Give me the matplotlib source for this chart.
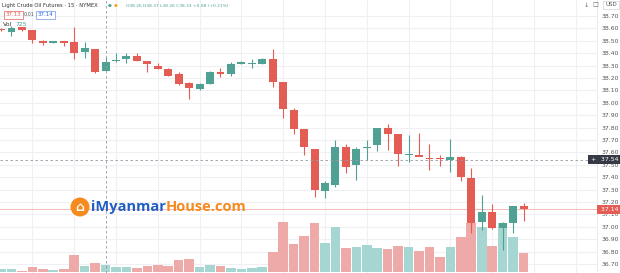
import matplotlib.pyplot as plt
from matplotlib.patches import Circle

opens = [38.595, 38.57, 38.61, 38.59, 38.495, 38.49, 38.495, 38.49, 38.41, 38.43,
         38.26, 38.34, 38.35, 38.38, 38.34, 38.30, 38.27, 38.23, 38.16, 38.11,
         38.15, 38.245, 38.23, 38.31, 38.32, 38.31, 38.35, 38.17, 37.94, 37.79,
         37.63, 37.29, 37.34, 37.64, 37.50, 37.635, 37.66, 37.80, 37.75, 37.58,
         37.58, 37.555, 37.555, 37.54, 37.56, 37.39, 37.04, 37.12, 36.99, 37.03,
         37.165]
highs = [38.60, 38.62, 38.61, 38.59, 38.51, 38.50, 38.50, 38.61, 38.49, 38.43,
         38.37, 38.40, 38.40, 38.40, 38.34, 38.32, 38.28, 38.25, 38.17, 38.16,
         38.26, 38.28, 38.33, 38.34, 38.35, 38.36, 38.43, 38.17, 37.96, 37.79,
         37.63, 37.37, 37.70, 37.67, 37.64, 37.70, 37.80, 37.83, 37.75, 37.74,
         37.76, 37.67, 37.58, 37.71, 37.57, 37.47, 37.26, 37.18, 37.04, 37.17,
         37.19]
lows = [38.58, 38.54, 38.58, 38.48, 38.47, 38.48, 38.46, 38.35, 38.36, 38.24,
        38.26, 38.33, 38.32, 38.34, 38.25, 38.27, 38.22, 38.14, 38.03, 38.10,
        38.15, 38.21, 38.22, 38.31, 38.28, 38.31, 38.13, 37.88, 37.75, 37.58,
        37.24, 37.23, 37.32, 37.43, 37.38, 37.54, 37.61, 37.62, 37.49, 37.52,
        37.57, 37.46, 37.49, 37.44, 37.37, 36.95, 36.97, 36.98, 36.81, 36.95,
        37.05]
closes = [38.59, 38.60, 38.59, 38.51, 38.49, 38.495, 38.49, 38.40, 38.44, 38.25,
          38.33, 38.345, 38.38, 38.34, 38.31, 38.27, 38.22, 38.15, 38.12, 38.15,
          38.25, 38.24, 38.31, 38.33, 38.325, 38.35, 38.17, 37.95, 37.79, 37.64,
          37.30, 37.35, 37.64, 37.48, 37.63, 37.645, 37.80, 37.75, 37.59, 37.585,
          37.56, 37.55, 37.55, 37.56, 37.40, 37.03, 37.12, 36.99, 37.03, 37.17,
          37.14]
volumes = [300, 300, 130, 530, 330, 200, 330, 1670, 570, 900,
           725, 500, 470, 400, 600, 730, 630, 1200, 1330, 470,
           670, 600, 370, 270, 370, 470, 2030, 5030, 2800, 3650,
           4930, 2870, 4530, 2430, 2530, 2670, 2370, 2330, 2570, 2470,
           2130, 2530, 1530, 2530, 3470, 4870, 4530, 2630, 4930, 3470,
           1870]
vol_up = [True, True, False, False, False, True, False, False, True, False,
          True, True, True, False, False, False, False, False, False, True,
          True, False, True, True, True, True, False, False, False, False,
          False, True, True, False, True, True, True, False, False, True,
          False, False, False, True, False, False, True, False, True, True,
          False]
price_ticks = [36.70, 36.80, 36.90, 37.00, 37.10, 37.20, 37.30, 37.40, 37.50, 37.60,
               37.70, 37.80, 37.90, 38.00, 38.10, 38.20, 38.30, 38.40, 38.50, 38.60, 38.70]
hour_marks = list(range(3, 57, 4))
last_price = 37.14
cross_price = 37.54
cross_bar = 10

UP, DOWN = '#4ea193', '#e35d55'
UP_V, DOWN_V = '#a6d6d1', '#eeaaa8'

W, H = 620, 273
fig = plt.figure(figsize=(6.2, 2.73), dpi=100)
fig.patch.set_facecolor('white')
pos = [0, 0, 597 / W, 1]

axv = fig.add_axes(pos, zorder=1)
axv.patch.set_alpha(0)
axv.axis('off')
ax = fig.add_axes(pos, zorder=2)
ax.patch.set_alpha(0)

n = len(closes)
xs = list(range(n))
axv.bar(xs, volumes, width=0.92, color=[UP_V if u else DOWN_V for u in vol_up])
axv.set_ylim(-100, 27200)
axv.set_xlim(-0.1, 57.03)

# background grid on the bottom axes so candles and volume sit on top
for hm in hour_marks:
    axv.axvline(hm, color='#eef0f4', lw=0.8, zorder=0)
for p in price_ticks:
    axv.plot([0, 1], [p, p], transform=ax.get_yaxis_transform(), color='#eef0f4', lw=0.8, zorder=0)

for i in xs:
    o, h, l, c = opens[i], highs[i], lows[i], closes[i]
    col = UP if c >= o else DOWN
    ax.vlines(i, l, h, color=col, lw=0.8, zorder=3)
    bot = min(o, c)
    ht = max(abs(c - o), 0.009)
    ax.bar(i, ht, bottom=bot - (0.0045 if abs(c - o) < 0.009 else 0), width=0.76,
           color=col, zorder=4, linewidth=0)

ax.set_xlim(-0.1, 57.03)
ax.set_ylim(36.627, 38.829)
ax.set_xticks([])
ax.yaxis.tick_right()
ax.set_yticks(price_ticks)
ax.set_yticklabels([f'{p:.2f}' for p in price_ticks])
ax.tick_params(axis='y', length=0, pad=3, labelsize=4.4, labelcolor='#555555')
for s in ['top', 'left', 'bottom']:
    ax.spines[s].set_visible(False)
ax.spines['right'].set_color('#e6e8ec')
ax.spines['right'].set_linewidth(0.6)

# crosshair and last price line
ax.axhline(cross_price, color='#9598a1', lw=0.6, ls=(0, (3, 3)), zorder=5)
ax.axvline(cross_bar, color='#9598a1', lw=0.6, ls=(0, (3, 3)), zorder=5)
ax.axhline(last_price, color='#f3b9b6', lw=0.7, zorder=2)

ty = ax.get_yaxis_transform()
ax.text(1.003, cross_price, f' {cross_price:.2f} ', transform=ty, ha='left', va='center',
        fontsize=4.4, color='white', zorder=10,
        bbox=dict(boxstyle='square,pad=0.35', fc='#363a45', ec='none'))
ax.text(0.997, cross_price, '+', transform=ty, ha='right', va='center', fontsize=4.4,
        color='white', zorder=10, bbox=dict(boxstyle='square,pad=0.3', fc='#363a45', ec='none'))
ax.text(1.003, last_price, f' {last_price:.2f} ', transform=ty, ha='left', va='center',
        fontsize=4.4, color='white', zorder=10,
        bbox=dict(boxstyle='square,pad=0.35', fc='#e35d55', ec='none'))

# header texts
fx = lambda px: px / W
fy = lambda py: 1 - py / H
fig.text(fx(2), fy(6), 'Light Crude Oil Futures · 15 · NYMEX', fontsize=3.8, color='#333333',
         va='center', zorder=20)
fig.text(fx(108), fy(6), '●', fontsize=3.2, color=UP, va='center', zorder=20)
fig.text(fx(114), fy(6), '●', fontsize=3.2, color='#f5a623', va='center', zorder=20)
fig.text(fx(126), fy(6), 'O38.26 H38.37 L38.26 C38.33 +0.08 (+0.21%)', fontsize=3.2,
         color=UP, va='center', zorder=20)
fig.text(fx(6), fy(15), '37.13', fontsize=4, color='#e35d55', va='center', zorder=20,
         bbox=dict(boxstyle='square,pad=0.3', fc='white', ec='#e35d55', lw=0.5))
fig.text(fx(24), fy(15), '0.01', fontsize=3.5, color='#555555', va='center', zorder=20)
fig.text(fx(38), fy(15), '37.14', fontsize=4, color='#2962ff', va='center', zorder=20,
         bbox=dict(boxstyle='square,pad=0.3', fc='white', ec='#6f97e8', lw=0.5))
fig.text(fx(3), fy(25), 'Vol', fontsize=4.4, color='#333333', va='center', zorder=20)
fig.text(fx(15), fy(25), '725', fontsize=4.4, color=UP, va='center', zorder=20)
fig.text(fx(586), fy(5), '↓', fontsize=4.5, color='#666666', va='center', ha='center', zorder=20)
fig.text(fx(595), fy(5), '□', fontsize=4.5, color='#666666', va='center', ha='center', zorder=20)
fig.text(fx(611), fy(5), 'USD', fontsize=4, color='#555555', va='center', ha='center', zorder=20,
         bbox=dict(boxstyle='square,pad=0.3', fc='white', ec='#d0d3da', lw=0.5))

# watermark
fig.patches.append(Circle((0.80, (H - 207) / 100), 0.095, transform=fig.dpi_scale_trans,
                          fc='#f58a1f', ec='none', zorder=20))
fig.text(fx(80), fy(207.5), '⌂', fontsize=9, color='white', ha='center', va='center',
         fontweight='bold', zorder=21)
t1 = fig.text(fx(91), fy(207), 'iMyanmar', fontsize=10.5, color='#1f5fc4', fontweight='bold',
              family='Open Sans', va='center', zorder=20)
ax.annotate('House.com', xy=(1, 0.5), xycoords=t1, va='center', ha='left', fontsize=10.5,
            color='#f58a1f', fontweight='bold', family='Open Sans', zorder=20,
            annotation_clip=False)

fig.savefig('out.png', dpi=100)
